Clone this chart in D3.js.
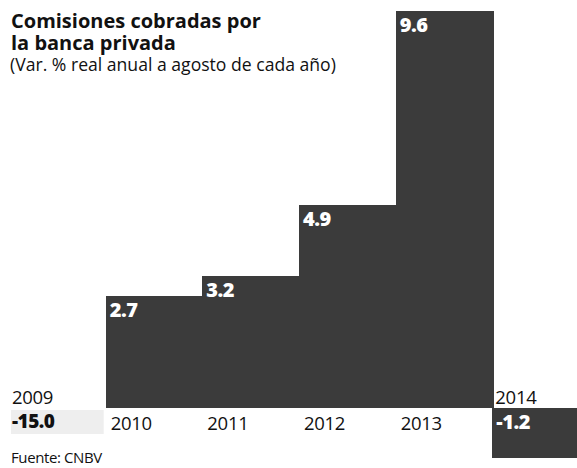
<!DOCTYPE html>
<html><head><meta charset="utf-8">
<script src="https://cdn.jsdelivr.net/npm/d3@7"></script>
<style>body{margin:0;background:#fff}svg{display:block}</style>
</head><body>
<script>
const years = ["2009","2010","2011","2012","2013","2014"];
const values = [-15.0, 2.7, 3.2, 4.9, 9.6, -1.2];
const titleLines = ["Comisiones cobradas por","la banca privada"];
const subtitle = "(Var. % real anual a agosto de cada año)";
const source = "Fuente: CNBV";

const W = 577, H = 468;
const svg = d3.select("body").append("svg").attr("width", W).attr("height", H);
const font = "'Open Sans', 'Noto Sans', sans-serif";

const x = d3.scaleBand().domain(years).range([9, 589]).padding(0);
const y = d3.scaleLinear().domain([0, 9.6]).range([408, 11]);
const yMin = -1.2; // lowest value drawn on scale

const data = years.map((yr, i) => ({year: yr, value: values[i]}));
const onScale = data.filter(d => d.value >= yMin);
const offScale = data.filter(d => d.value < yMin);

// faint indicator for off-scale value
svg.selectAll("rect.off").data(offScale).join("rect")
  .attr("class","off")
  .attr("x", d => x(d.year) + 2).attr("y", y(0) + 2)
  .attr("width", x.bandwidth() - 4).attr("height", 24)
  .attr("fill", "#eeeeee");

svg.selectAll("rect.bar").data(onScale).join("rect")
  .attr("class","bar")
  .attr("x", d => Math.round(x(d.year)))
  .attr("y", d => y(Math.max(0, d.value)))
  .attr("width", Math.round(x.bandwidth()) + 1)
  .attr("height", d => Math.abs(y(d.value) - y(0)))
  .attr("shape-rendering", "crispEdges")
  .attr("fill", "#3b3b3b");

// value labels inside bars
svg.selectAll("text.val").data(onScale).join("text")
  .attr("class","val")
  .attr("x", d => x(d.year) + 4)
  .attr("y", d => y(Math.max(0, d.value)) + 21)
  .attr("fill", "#fff").attr("font-family", font).attr("font-weight", 800)
  .attr("font-size", 20).attr("letter-spacing", -0.5)
  .text(d => d.value.toFixed(1));

// year labels
svg.selectAll("text.yr").data(data).join("text")
  .attr("class","yr")
  .attr("x", d => x(d.year) + (d.value < 0 ? 3 : 5))
  .attr("y", d => d.value < 0 ? y(0) - 4 : y(0) + 22)
  .attr("fill", "#111").attr("font-family", font).attr("font-size", 18.5)
  .attr("letter-spacing", -0.3)
  .text(d => d.year);

// off-scale value label
svg.selectAll("text.offval").data(offScale).join("text")
  .attr("class","offval")
  .attr("x", d => x(d.year) + 3)
  .attr("y", y(0) + 20)
  .attr("fill", "#111").attr("font-family", font).attr("font-weight", 800)
  .attr("font-size", 19).attr("letter-spacing", -0.5)
  .text(d => d.value.toFixed(1));

// title (one text element, two lines)
const t = svg.append("text")
  .attr("fill", "#111").attr("font-family", font).attr("font-weight", 700)
  .attr("font-size", 20).attr("letter-spacing", 0);
t.selectAll("tspan").data(titleLines).join("tspan")
  .attr("x", 11).attr("y", (d,i) => 28 + i*22)
  .text(d => d);

svg.append("text").attr("x", 10).attr("y", 71)
  .attr("fill", "#111").attr("font-family", font).attr("font-size", 17.6)
  .text(subtitle);

svg.append("text").attr("x", 11).attr("y", 463)
  .attr("fill", "#111").attr("font-family", font).attr("font-size", 15)
  .attr("letter-spacing", -0.4)
  .text(source);
</script>
</body></html>
